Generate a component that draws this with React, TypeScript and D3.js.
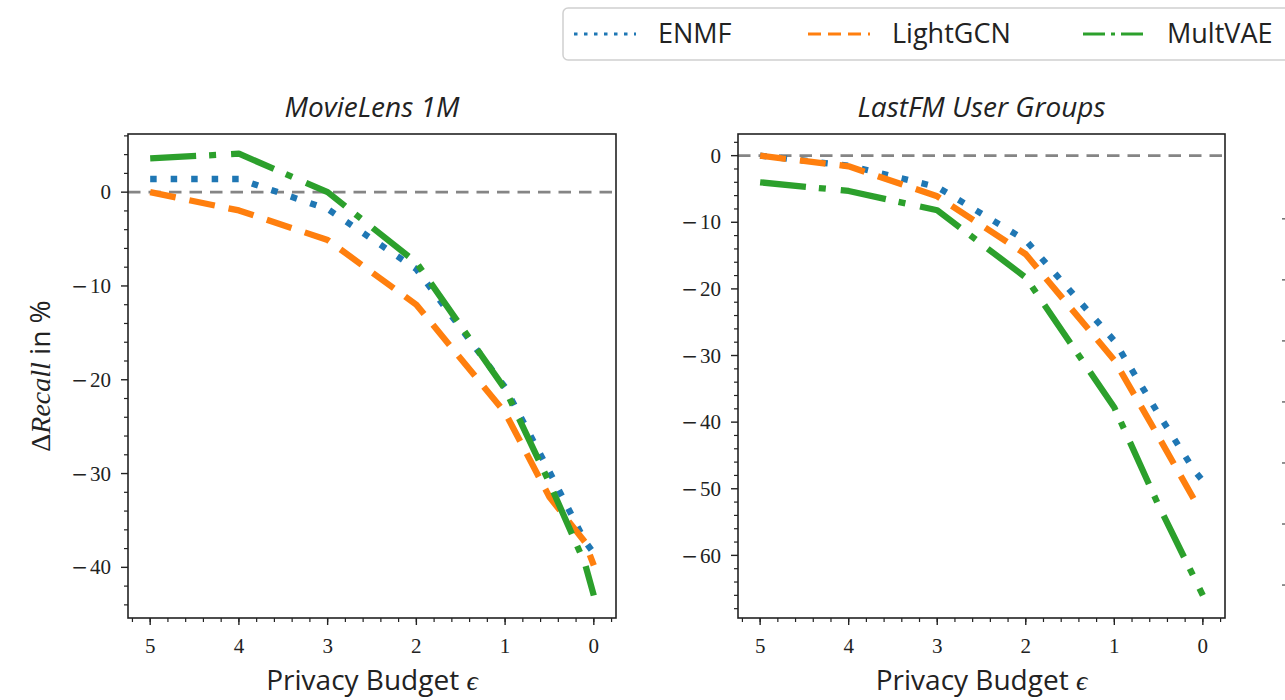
import React from 'react';
import * as d3 from 'd3';

// Privacy budgets on the x axis (descending, axis is inverted)
const epsilons = [5, 4, 3, 2, 1, 0.5, 0.1, 0];
const models = ['ENMF', 'LightGCN', 'MultVAE'];

// ΔRecall in % for MovieLens 1M
const movielensENMF = [1.4, 1.4, -1.8, -8.2, -20.8, -29.8, -37.2, -38.5];
const movielensLightGCN = [0.0, -1.95, -5.1, -12.0, -23.5, -32.5, -37.3, -39.8];
const movielensMultVAE = [3.6, 4.1, 0.0, -7.5, -21.0, -31.0, -39.6, -43.0];

// ΔRecall in % for LastFM User Groups
const lastfmENMF = [0.0, -1.5, -4.7, -12.7, -27.8, -38.8, -47.2, -48.8];
const lastfmLightGCN = [0.0, -1.6, -6.1, -14.8, -30.7, -42.2, -51.6, -52.8];
const lastfmMultVAE = [-4.0, -5.3, -8.2, -18.3, -37.8, -52.5, -63.3, -66.0];

const xTicks = [5, 4, 3, 2, 1, 0];
const movielensYTicks = [0, -10, -20, -30, -40];
const lastfmYTicks = [0, -10, -20, -30, -40, -50, -60];
const thirdPanelYTicks = [10, 0, -10, -20, -30, -40, -50];

const colors = ['#1f77b4', '#ff7f0e', '#2ca02c'];
const dashes = ['6.5,14', '26,14', '46,13,7,15'];
const legendDashes = ['3.5,6.5', '13,7', '22,6,4,6'];

const SANS = '"Open Sans", "Noto Sans", sans-serif';
const SERIF = '"Liberation Serif", "DejaVu Serif", serif';

const TOP = 134;
const BOTTOM = 618;

type PanelProps = {
  title: string;
  left: number;
  right: number;
  yDomain: [number, number];
  yTicks: number[];
  series: number[][];
  yLabel?: boolean;
};

// Tick label with a wide math-style minus sign
function TickText({ v, ...rest }: { v: number } & React.SVGProps<SVGTextElement>) {
  return (
    <text fontFamily={SERIF} fontSize={21} fill="#222" {...rest}>
      {v < 0 && <tspan fontFamily='"DejaVu Serif", serif' fontSize={20}>{'\u2212'}</tspan>}
      <tspan dx={v < 0 ? 2 : 0}>{Math.abs(v)}</tspan>
    </text>
  );
}

function Panel({ title, left, right, yDomain, yTicks, series, yLabel }: PanelProps) {
  const x = d3.scaleLinear().domain([5.25, -0.25]).range([left, right]);
  const y = d3.scaleLinear().domain(yDomain).range([BOTTOM, TOP]);
  const line = d3
    .line<number>()
    .x((_, i) => x(epsilons[i]))
    .y((d) => y(d));

  const xMinor = d3.range(-0.2, 5.21, 0.2).map((v) => Math.round(v * 10) / 10);
  const yMinor = d3
    .range(Math.ceil(yDomain[0] / 2) * 2, yDomain[1], 2)
    .filter((v) => v % 10 !== 0);

  const cx = (left + right) / 2;
  return (
    <g>
      <text
        x={cx}
        y={117}
        textAnchor="middle"
        fontFamily={SANS}
        fontStyle="italic"
        fontSize={28}
        fill="#222"
      >
        {title}
      </text>
      <rect x={left} y={TOP} width={right - left} height={BOTTOM - TOP} fill="#fff" />
      {/* zero reference */}
      <line
        x1={left}
        x2={right}
        y1={y(0)}
        y2={y(0)}
        stroke="#858585"
        strokeWidth={2.8}
        strokeDasharray="12.5,8"
      />
      {series.map((s, i) => (
        <path
          key={models[i]}
          d={line(s) || ''}
          fill="none"
          stroke={colors[i]}
          strokeWidth={6.3}
          strokeDasharray={dashes[i]}
          strokeLinecap="butt"
          strokeLinejoin="round"
        />
      ))}
      <rect
        x={left}
        y={TOP}
        width={right - left}
        height={BOTTOM - TOP}
        fill="none"
        stroke="#222"
        strokeWidth={1.6}
      />
      {/* x ticks */}
      {xMinor.map((v) => (
        <line key={'xm' + v} x1={x(v)} x2={x(v)} y1={BOTTOM} y2={BOTTOM + 4} stroke="#222" strokeWidth={1.2} />
      ))}
      {xTicks.map((v) => (
        <g key={'x' + v}>
          <line x1={x(v)} x2={x(v)} y1={BOTTOM} y2={BOTTOM + 7} stroke="#222" strokeWidth={1.4} />
          <TickText v={v} x={x(v)} y={653} textAnchor="middle" />
        </g>
      ))}
      {/* y ticks */}
      {yMinor.map((v) => (
        <line key={'ym' + v} x1={left - 4} x2={left} y1={y(v)} y2={y(v)} stroke="#222" strokeWidth={1.2} />
      ))}
      {yTicks.map((v) => (
        <g key={'y' + v}>
          <line x1={left - 7} x2={left} y1={y(v)} y2={y(v)} stroke="#222" strokeWidth={1.4} />
          <TickText v={v} x={left - 17} y={y(v)} dy="0.34em" textAnchor="end" />
        </g>
      ))}
      <text x={cx} y={690} textAnchor="middle" fontFamily={SANS} fontSize={28} fill="#222">
        Privacy Budget{' '}
        <tspan fontFamily={SERIF} fontStyle="italic">
          {'\u03f5'}
        </tspan>
      </text>
      {yLabel && (
        <text
          transform={`translate(50, ${(TOP + BOTTOM) / 2}) rotate(-90)`}
          textAnchor="middle"
          fontSize={28}
          fill="#222"
        >
          <tspan fontFamily={SERIF}>{'\u0394'}</tspan>
          <tspan fontFamily={SERIF} fontStyle="italic">
            Recall
          </tspan>
          <tspan fontFamily={SANS}> in %</tspan>
        </text>
      )}
    </g>
  );
}

export default function App() {
  const thirdY = d3.scaleLinear().domain([-55.4, 23.9]).range([BOTTOM, TOP]);
  const legendX = [574, 808, 1083];
  return (
    <svg
      width={1285}
      height={700}
      style={{ position: 'absolute', left: 0, top: 0, background: '#fff' }}
    >
      <rect width={1285} height={700} fill="#fff" />
      <Panel
        title="MovieLens 1M"
        left={128}
        right={616}
        yDomain={[-45.4, 6.2]}
        yTicks={movielensYTicks}
        series={[movielensENMF, movielensLightGCN, movielensMultVAE]}
        yLabel
      />
      <Panel
        title="LastFM User Groups"
        left={738}
        right={1225}
        yDomain={[-69.4, 3.25]}
        yTicks={lastfmYTicks}
        series={[lastfmENMF, lastfmLightGCN, lastfmMultVAE]}
      />
      {/* y ticks of the neighbouring panel, cut off at the right edge */}
      {thirdPanelYTicks.map((v) => (
        <line key={'t' + v} x1={1282} x2={1290} y1={thirdY(v)} y2={thirdY(v)} stroke="#555" strokeWidth={1.3} />
      ))}
      {/* legend */}
      <rect x={563} y={8} width={760} height={52} rx={5} fill="#fff" stroke="#d0d0d0" strokeWidth={1.5} />
      {models.map((m, i) => (
        <g key={m}>
          <line
            x1={legendX[i]}
            x2={legendX[i] + 62}
            y1={34}
            y2={34}
            stroke={colors[i]}
            strokeWidth={3}
            strokeDasharray={legendDashes[i]}
          />
          <text x={legendX[i] + 84} y={34} dy="0.35em" fontFamily={SANS} fontSize={27} fill="#222">
            {m}
          </text>
        </g>
      ))}
    </svg>
  );
}
